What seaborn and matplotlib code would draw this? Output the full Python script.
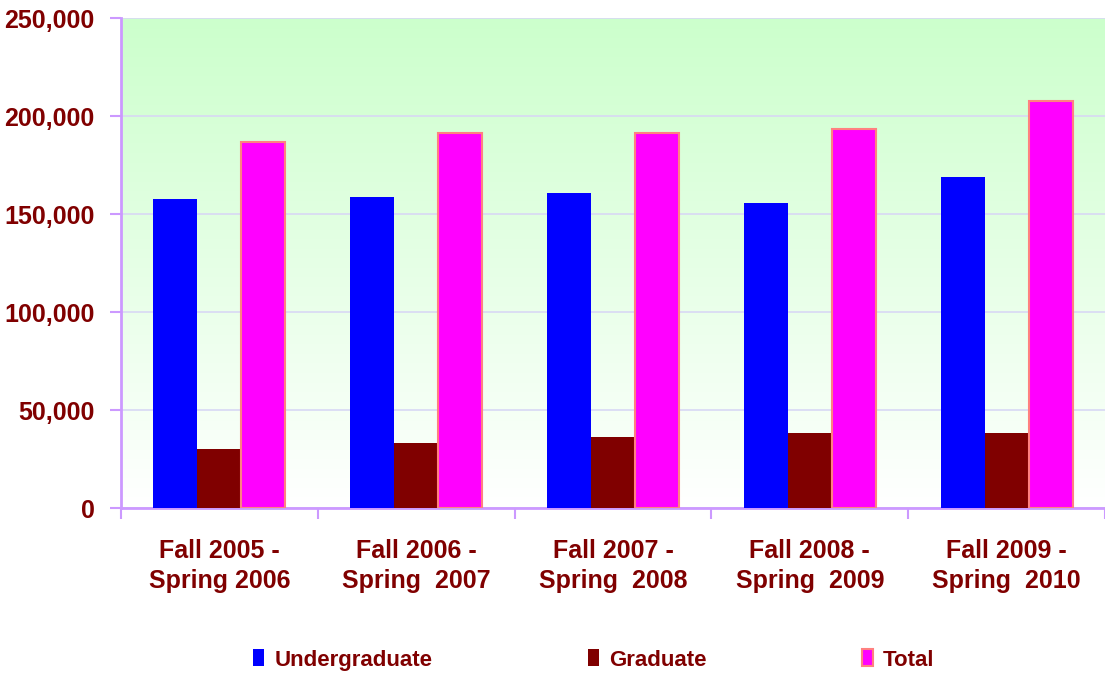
import numpy as np
import pandas as pd
import matplotlib
matplotlib.use("Agg")
import matplotlib.pyplot as plt
import seaborn as sns
from matplotlib.colors import LinearSegmentedColormap
from matplotlib.patches import Patch
from matplotlib.ticker import FuncFormatter, FixedLocator

categories = ["Fall 2005 -\nSpring 2006", "Fall 2006 -\nSpring  2007", "Fall 2007 -\nSpring  2008",
              "Fall 2008 -\nSpring  2009", "Fall 2009 -\nSpring  2010"]
undergraduate = [157600, 158700, 160700, 155600, 168900]
graduate = [30100, 33200, 36200, 38300, 38300]
total = [186700, 191300, 191300, 193400, 207600]
series_names = ["Undergraduate", "Graduate", "Total"]
colors = ["#0000FF", "#800000", "#FF00FF"]

df = pd.DataFrame({
    "period": categories * 3,
    "series": sum([[s] * len(categories) for s in series_names], []),
    "value": undergraduate + graduate + total,
})

sns.set_theme(style="white")
plt.rcParams['font.family'] = ['Liberation Sans', 'DejaVu Sans']

fig = plt.figure(figsize=(11.05, 6.75), dpi=100)
ax = fig.add_axes([121/1105, (675-508)/675, (1105-121)/1105, (508-18)/675])

# gradient background
cmap = LinearSegmentedColormap.from_list("bg", ["#CCFFCC", "#FFFFFF"])
grad = np.linspace(0, 1, 256).reshape(-1, 1)
ax.imshow(grad, aspect="auto", cmap=cmap, extent=[0, 1, 0, 1], transform=ax.transAxes, zorder=0)

sns.barplot(data=df, x="period", y="value", hue="series", palette=colors, width=0.67,
            gap=0, saturation=1, ax=ax, legend=False, zorder=3)

# edge on Total bars
for i, p in enumerate(ax.patches):
    if i // len(categories) == 2:
        p.set_edgecolor("#FF8080")
        p.set_linewidth(1.5)
    else:
        p.set_edgecolor("none")

ax.set_ylim(0, 250000)
ax.set_xlim(-0.5, len(categories) - 0.5)
ax.set_yticks(np.arange(0, 250001, 50000))
ax.yaxis.set_major_formatter(FuncFormatter(lambda v, _: f"{int(v):,}"))
ax.grid(axis="y", color="#D8D8F4", linewidth=1.2, zorder=1)
ax.set_axisbelow(True)
ax.set_xlabel("")
ax.set_ylabel("")

label_color = "#800000"
ax.tick_params(axis="y", left=True, direction="out", length=8, width=1.5, color="#CC99FF",
               labelsize=18, labelcolor=label_color, pad=11)
ax.tick_params(axis="x", which="major", bottom=False, length=0, labelsize=18,
               labelcolor=label_color, pad=22)
ax.xaxis.set_minor_locator(FixedLocator(np.arange(-0.5, len(categories), 1.0)))
ax.tick_params(axis="x", which="minor", bottom=True, direction="out", length=8, width=1.5,
               color="#CC99FF")
for lbl in ax.get_yticklabels() + ax.get_xticklabels():
    lbl.set_fontweight("bold")
for lbl in ax.get_xticklabels():
    lbl.set_linespacing(1.35)

for side in ["top", "right"]:
    ax.spines[side].set_visible(False)
for side in ["left", "bottom"]:
    ax.spines[side].set_color("#CC99FF")
    ax.spines[side].set_linewidth(2)

handles = [Patch(facecolor=colors[0], edgecolor="none"),
           Patch(facecolor=colors[1], edgecolor="none"),
           Patch(facecolor=colors[2], edgecolor="#FF8080", linewidth=1.5)]
fig.legend(handles, series_names, loc="center", bbox_to_anchor=(594/1105, 1 - 660/675),
           ncol=3, frameon=False, handlelength=0.5, handleheight=0.8, handletextpad=0.45,
           columnspacing=7.0, prop={"weight": "bold", "size": 16}, labelcolor=label_color)

fig.savefig("out.png", dpi=100)
